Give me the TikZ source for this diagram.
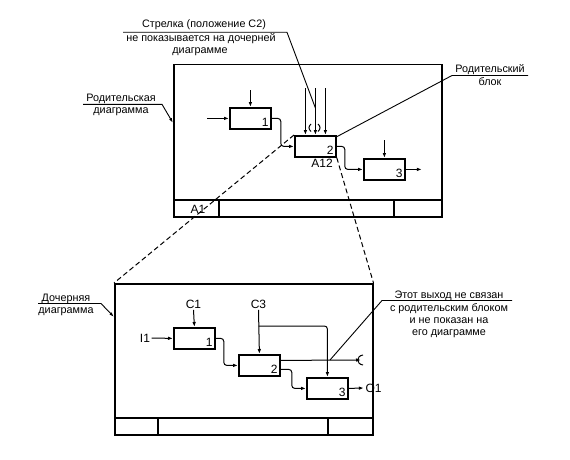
\documentclass[tikz,border=0pt]{standalone}
\usepackage{fontspec}
\setmainfont{Liberation Sans}
\usetikzlibrary{arrows.meta}
\begin{document}
\begin{tikzpicture}[x=1pt,y=-1pt,
  frame/.style={draw, line width=1.5pt, inner sep=0pt, anchor=north west},
  blk/.style={draw, line width=1.8pt, minimum width=41pt, minimum height=21pt, inner sep=0pt, anchor=north west},
  num/.style={inner sep=0pt, font=\fontsize{12}{12}\selectfont, anchor=base east},
  lbl/.style={inner sep=1.5pt, font=\fontsize{12}{12}\selectfont},
  note/.style={inner sep=0pt, font=\fontsize{10.8}{12}\selectfont, anchor=base},
  arr/.style={line width=1pt, -{Latex[length=5pt,width=3.6pt]}, rounded corners=3pt},
  ln/.style={line width=1pt},
  lead/.style={line width=0.9pt},
  leadarr/.style={line width=0.9pt, -{Latex[length=5pt,width=3pt]}},
  dsh/.style={line width=1pt, dash pattern=on 5pt off 3pt}]
\useasboundingbox (0,0) rectangle (570,460);

% ---------- upper (parent) diagram ----------
\node[frame, minimum width=268pt, minimum height=152pt] (uf) at (173,64) {};
\draw[line width=1.5pt] (173,200) -- (441,200);
\draw[line width=1.5pt] (219,200) -- (219,216) (394,200) -- (394,216);
\node[lbl] (a1) at (198,209) {A1};

\node[blk] (u1) at (229,107) {};
\node[blk] (u2) at (294,135) {};
\node[blk] (u3) at (363,158) {};
\node[num] (u1n) at ([xshift=-3pt,yshift=3pt]u1.south east) {1};
\node[num] (u2n) at ([xshift=-3pt,yshift=3pt]u2.south east) {2};
\node[num] (u3n) at ([xshift=-3pt,yshift=3pt]u3.south east) {3};
\node[lbl] (a12) at (322,163.5) {A12};

\draw[arr] ([yshift=17pt]u1.north) -- (u1.north);
\draw[arr] ([xshift=-22pt]u1.west) -- (u1.west);
\draw[arr] (u1.east) -- ++(9,0) |- (u2.west);
\draw[arr] ([xshift=-10pt,yshift=47pt]u2.north) -- ([xshift=-10pt]u2.north);
\draw[arr] ([yshift=47pt]u2.north) -- (u2.north);
\draw[arr] ([xshift=10pt,yshift=47pt]u2.north) -- ([xshift=10pt]u2.north);
\draw[ln] (311,124) .. controls (308.3,126.5) and (308.3,129) .. (311,131.5);
\draw[ln] (318,124) .. controls (320.7,126.5) and (320.7,129) .. (318,131.5);
\draw[arr] (u2.east) -- ++(8,0) |- (u3.west);
\draw[arr] ([yshift=18pt]u3.north) -- (u3.north);
\draw[arr] (u3.east) -- ++(16,0);

% ---------- lower (child) diagram ----------
\node[frame, minimum width=258pt, minimum height=151pt] (lf) at (114,283) {};
\draw[line width=1.5pt] (114,418) -- (372,418);
\draw[line width=1.5pt] (158,418) -- (158,434) (328,418) -- (328,434);

\node[blk] (l1) at (173,327) {};
\node[blk] (l2) at (238,354) {};
\node[blk] (l3) at (306,377) {};
\node[num] (l1n) at ([xshift=-3pt,yshift=3pt]l1.south east) {1};
\node[num] (l2n) at ([xshift=-3pt,yshift=3pt]l2.south east) {2};
\node[num] (l3n) at ([xshift=-3pt,yshift=3pt]l3.south east) {3};

\node[lbl] (c1) at (193.5,304) {C1};
\node[lbl] (i1) at (145,338) {I1};
\node[lbl] (c3) at (258.5,304) {C3};
\node[lbl] (o1) at (373.5,388) {O1};

\draw[arr] (c1.south) -- (l1.north);
\draw[arr] (i1.east) -- (l1.west);
\draw[arr] (l1.east) -- ++(8,0) |- (l2.west);
\draw[arr] (c3.south) -- (l2.north);
\draw[arr] (c3.south |- 0,326) -| (l3.north);
\coordinate (tun) at (361,360);
\draw[arr] ([yshift=5pt]l2.east) -- (tun);
\draw[ln] (363,355) .. controls (356,356) and (356,364) .. (363,365);
\draw[arr] ([yshift=-4pt]l2.east) -- ++(11,0) |- (l3.west);
\draw[arr] (l3.east) -- (o1.west);

% ---------- dashed projection lines ----------
\draw[dsh] (u2.north west) -- (lf.north west);
\draw[dsh] (u2.south east) -- (lf.north east);

% ---------- annotations ----------
\node[note] (t1) at (204,28) {Стрелка (положение C2)};
\node[note] (t2) at (201,42) {не показывается на дочерней};
\node[note] (t3) at (200,54) {диаграмме};
\coordinate (t1u) at (123,32.3);
\coordinate (t1e) at (287,32.3);
\draw[lead] (t1u) -- (t1e) -- ([yshift=27pt]u2.north);

\node[note] (p1) at (490,73) {Родительский};
\node[note] (p2) at (490,85) {блок};
\coordinate (p1u) at (528,75.5);
\coordinate (p1e) at (452,75.5);
\draw[lead] (p1u) -- (p1e) -- ([xshift=-1.5pt,yshift=-2.5pt]u2.north east);

\node[note] (r1) at (121,101) {Родительская};
\node[note] (r2) at (121,113) {диаграмма};
\coordinate (r1u) at (83,104.3);
\coordinate (r1e) at (162,104.3);
\draw[leadarr] (r1u) -- (r1e) -- (uf.west |- 0,123);

\node[note] (d1) at (66,301) {Дочерняя};
\node[note] (d2) at (66,313) {диаграмма};
\coordinate (d1u) at (38,303.5);
\coordinate (d1e) at (101,303.5);
\draw[leadarr] (d1u) -- (d1e) -- (lf.west |- 0,317);

\node[note] (e1) at (449,298) {Этот выход не связан};
\node[note] (e2) at (449,311) {с родительским блоком};
\node[note] (e3) at (449,323) {и не показан на};
\node[note] (e4) at (449,335) {его диаграмме};
\coordinate (e1u) at (512,300.5);
\coordinate (e1e) at (382,300.5);
\draw[lead] (e1u) -- (e1e) -- (330,360);
\end{tikzpicture}
\end{document}
